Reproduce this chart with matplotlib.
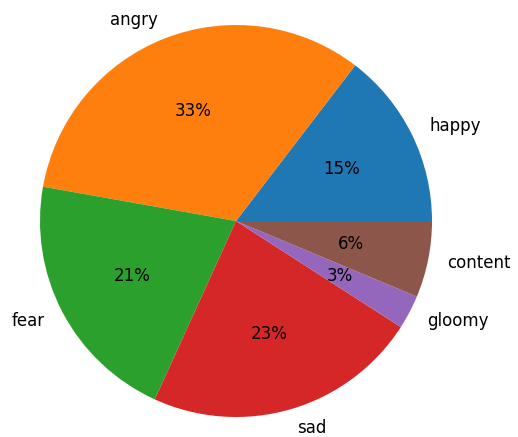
import matplotlib
matplotlib.use("Agg")
import matplotlib.pyplot as plt

labels = ["happy", "angry", "fear", "sad", "gloomy", "content"]
sizes = [14.6, 32.6, 21.0, 22.7, 2.8, 6.3]

fig = plt.figure(figsize=(5.18, 4.37), dpi=100)
W, H = 518, 437
r = 196
cx, cy = 236, 437 - 221
ax = fig.add_axes([(cx - 1.25 * r) / W, (cy - 1.25 * r) / H, 2.5 * r / W, 2.5 * r / H])
ax.pie(sizes, labels=labels, autopct="%1.0f%%", textprops={"fontsize": 12})
ax.set_xlim(-1.25, 1.25)
ax.set_ylim(-1.25, 1.25)
ax.set_aspect("auto")
fig.savefig("out.png", dpi=100)
